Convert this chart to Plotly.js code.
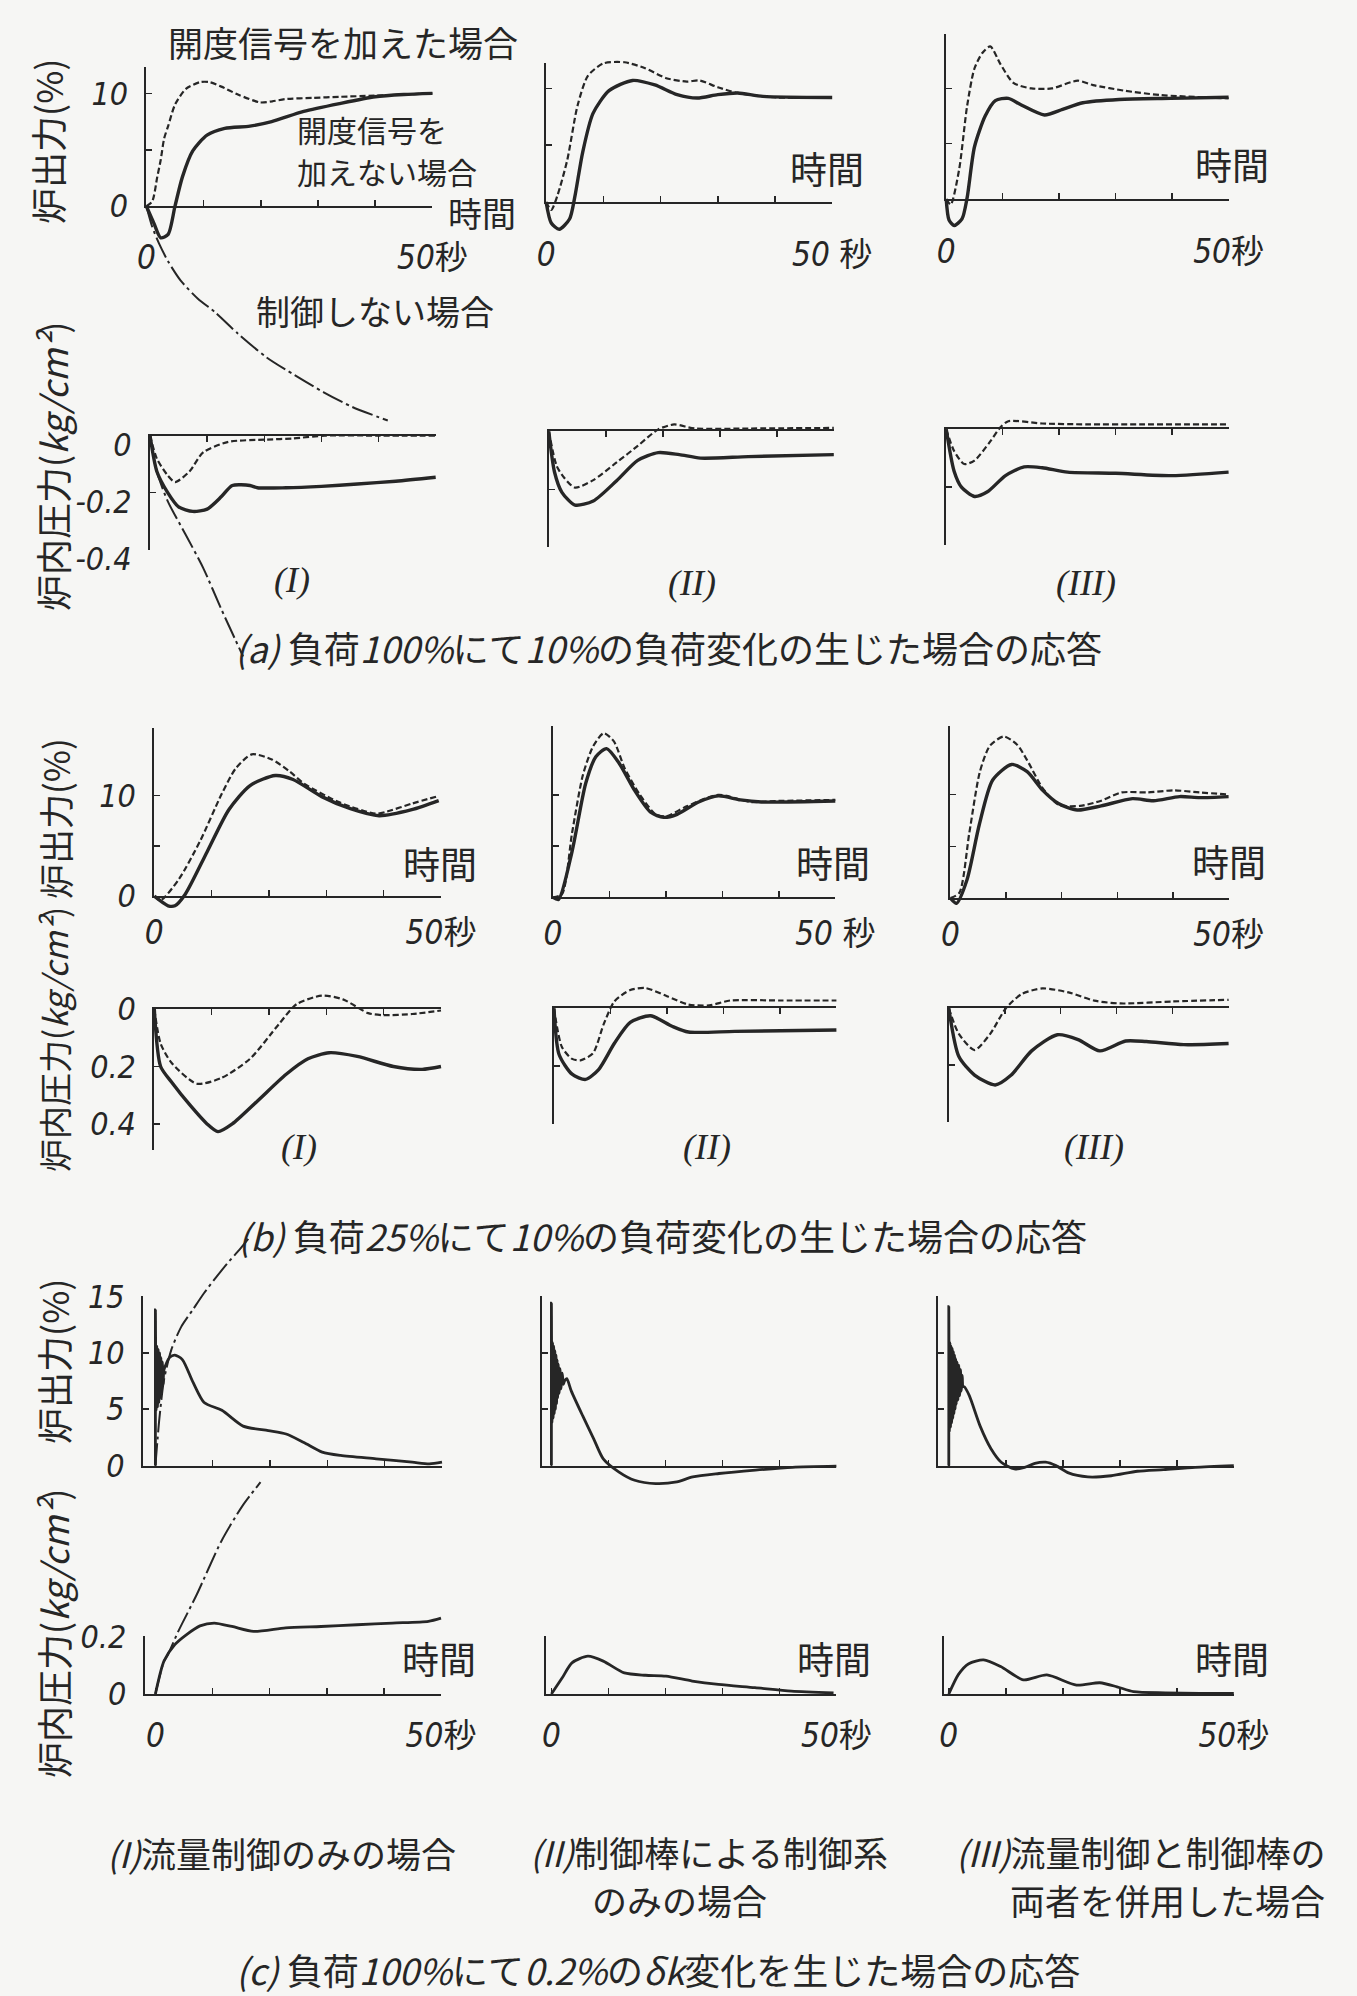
<!DOCTYPE html>
<html><head><meta charset="utf-8">
<script src="https://cdn.plot.ly/plotly-3.0.1.min.js"></script>
<style>html,body{margin:0;padding:0;background:#f6f6f4;}</style>
</head><body>
<div id="chart" style="width:1357px;height:1996px;"></div>
<script>
// ===================== DATA (time in s) =====================
// (a) 負荷100%にて10%の負荷変化 — 炉出力(%) and 炉内圧力(kg/cm²)
const a1_out_t_dash  = [0,1,1.9,2.5,3.1,3.8,5,6.9,9.4,11,13.1,16,19.9,22,24.4,29,33.8,40,45,50];
const a1_out_dash    = [0,0.4,2.6,4.1,6.0,7.1,9.0,10.4,11.0,11.0,10.6,9.9,9.2,9.3,9.5,9.6,9.7,9.8,9.9,10];
const a1_out_t_solid = [0,1.3,2.5,3.8,5,6.3,8.1,10.6,13.7,18.1,21.9,27.5,33.8,40,45,50];
const a1_out_solid   = [0,-1.5,-2.8,-2.5,0,2.6,4.9,6.3,6.9,7.1,7.5,8.4,9.1,9.7,9.9,10];
const a1_out_t_none  = [0,1,2.2,3.8,6,9,12,16,21,26,31,36,42.2];
const a1_out_none    = [0,-1.8,-3.3,-4.9,-6.6,-8.2,-9.4,-11.3,-13.4,-15,-16.5,-17.8,-19];
const a1_pr_t_dash   = [0,1.2,3.1,4.4,6.9,9.3,13.7,20.5,25,30.6,40,50];
const a1_pr_dash     = [0,-0.081,-0.14,-0.163,-0.126,-0.059,-0.022,-0.014,-0.01,0,0,0];
const a1_pr_t_solid  = [0,1.2,3.1,5,7.5,10,12.5,14.4,17.5,18.8,23.8,30,36.3,43,50];
const a1_pr_solid    = [0,-0.126,-0.2,-0.25,-0.266,-0.258,-0.214,-0.175,-0.175,-0.183,-0.183,-0.178,-0.17,-0.16,-0.146];
const a1_pr_t_none   = [0,1.2,3.1,6.2,9.3,12.5,15.6,16.3];
const a1_pr_none     = [0,-0.126,-0.23,-0.346,-0.464,-0.61,-0.745,-0.775];

const a2_out_t_dash  = [0,0.9,2,3.7,5.5,7.3,10,13.7,17.2,21,24.6,26.8,30,33.5,40.5,50];
const a2_out_dash    = [0,-0.7,0.6,3.7,8.5,11.1,12.2,12.3,11.8,10.9,10.6,10.7,10.1,9.6,9.2,9.2];
const a2_out_t_solid = [0,0.9,2.3,4.1,5,6.4,8.2,11,15.1,19,22.9,26.4,30,33.5,37.9,50];
const a2_out_solid   = [0,-1.85,-2.4,-1.5,0.4,4.4,7.8,9.8,10.7,10.3,9.45,9.15,9.45,9.6,9.3,9.2];
const a2_pr_t_dash   = [0,1.4,2.7,4.6,7.8,11.9,15.6,19.2,22,25.6,35,50];
const a2_pr_dash     = [0,-0.12,-0.16,-0.194,-0.168,-0.107,-0.05,0.007,0.024,0.01,0.01,0.012];
const a2_pr_t_solid  = [0,1,2.3,4.6,7.8,11.9,15.6,19.2,22.9,26.6,35,50];
const a2_pr_solid    = [0,-0.14,-0.21,-0.254,-0.24,-0.17,-0.1,-0.073,-0.08,-0.092,-0.087,-0.08];

const a3_out_t_dash  = [0,0.8,2.3,3.7,5,6.4,7.8,9.6,11.9,15.1,18.7,23.3,26,31.5,37.9,50];
const a3_out_dash    = [0,-0.5,2.7,8.4,11.8,13.2,13.8,12.2,10.5,10.0,10.0,10.7,10.3,9.8,9.4,9.1];
const a3_out_t_solid = [0,0.5,1.4,2.8,3.7,5,6.9,8.7,11,13.3,17.4,20.6,24.2,30.6,39.7,50];
const a3_out_solid   = [0,-1.9,-2.4,-1.8,0.1,4.7,7.5,8.9,9.1,8.5,7.6,8.1,8.7,9.0,9.1,9.2];
const a3_pr_t_dash   = [0,1.4,3.2,5,7.8,9.6,11,17,25,35,50];
const a3_pr_dash     = [0,-0.075,-0.12,-0.108,-0.042,0.007,0.028,0.02,0.017,0.017,0.017];
const a3_pr_t_solid  = [0,1.4,2.7,5,7.3,10.5,13.8,17,21.5,30,40,50];
const a3_pr_solid    = [0,-0.145,-0.2,-0.232,-0.216,-0.16,-0.13,-0.133,-0.148,-0.152,-0.16,-0.148];

// (b) 負荷25%にて10%の負荷変化 (pressure drop plotted downward as positive)
const b1_out_t_dash  = [0,1.1,4.3,8,11.7,14.2,17,20.5,23.6,26.1,32.4,38.6,40.5,44.9,49.2];
const b1_out_dash    = [0,-0.4,1.7,5.5,10.1,12.7,14.1,13.6,12.4,11.2,9.3,8.2,8.4,9.2,9.9];
const b1_out_t_solid = [0,2.4,3.6,5.4,9.2,13,16.7,21.1,24.2,29.2,34.2,39.2,44.9,49.6];
const b1_out_solid   = [0,-0.95,-0.95,0.2,4.4,8.6,11,12,11.6,9.9,8.7,8.0,8.6,9.5];
const b1_pr_t_dash   = [0,1.1,3,7.4,11.7,16.7,21.7,24.8,29.2,32.9,37.3,39.8,45,50];
const b1_pr_dash     = [0,0.12,0.187,0.26,0.24,0.173,0.053,-0.017,-0.047,-0.034,0.014,0.021,0.017,0.005];
const b1_pr_t_solid  = [0,1.1,3,6.2,9.2,11.1,13.6,18,23,26.8,30.5,35.4,41.7,46.7,50];
const b1_pr_solid    = [0,0.2,0.254,0.334,0.40,0.427,0.40,0.32,0.227,0.173,0.152,0.165,0.2,0.21,0.2];

const b2_out_t_dash  = [0,1.6,3.4,5.3,7.1,9,10.8,12.7,15.4,18.2,20,23.8,29.3,35,40,50];
const b2_out_dash    = [0,0.3,6.3,11.9,14.7,16.0,15.2,12.6,10,8.1,7.9,8.9,10,9.3,9.4,9.5];
const b2_out_t_solid = [0,1,3.4,5.8,7.6,9.5,11.7,14.5,17.3,19.6,22,25.8,29.3,33.2,36.9,50];
const b2_out_solid   = [0,-0.2,4.5,11.1,13.7,14.5,13.1,10.4,8.3,7.8,8.1,9.3,9.9,9.5,9.3,9.4];
const b2_pr_t_dash   = [0,1.4,3.2,4.7,6.9,8.8,10.7,13.5,16.2,20,23.8,27.5,31.2,40,50];
const b2_pr_dash     = [0,0.134,0.175,0.18,0.156,0.055,-0.024,-0.063,-0.07,-0.042,-0.013,-0.01,-0.027,-0.027,-0.027];
const b2_pr_t_solid  = [0,0.9,3.2,5.6,7.9,10.7,13.5,17.1,20.9,23.8,32,50];
const b2_pr_solid    = [0,0.16,0.228,0.246,0.212,0.121,0.049,0.026,0.062,0.082,0.08,0.075];

const b3_out_t_dash  = [0,1.6,3.4,5.3,7.1,9.6,12,13.8,16.6,19.5,23.3,27.1,30.8,35.5,40.1,44.8,50];
const b3_out_dash    = [0,0.5,6.3,12.2,14.7,15.6,14.8,13.3,10.6,9.0,8.9,9.4,10.2,10.2,10.4,10.2,10];
const b3_out_t_solid = [0,1.1,3,5.2,7.6,11,13.8,16.6,19.5,22.8,27.1,32.7,36.5,41.2,44.8,50];
const b3_out_solid   = [0,-0.5,1.8,7.1,11.4,12.9,12.2,10.4,9.1,8.5,8.9,9.6,9.4,9.8,9.7,9.8];
const b3_pr_t_dash   = [0,1.8,4.6,7.4,10.2,13,16.7,21.4,26,30.7,40,50];
const b3_pr_dash     = [0,0.09,0.147,0.09,0,-0.05,-0.07,-0.056,-0.027,-0.017,-0.024,-0.03];
const b3_pr_t_solid  = [0,1.8,4.6,8.3,11.1,14.8,19.4,23.1,27,31.6,35.3,42,50];
const b3_pr_solid    = [0,0.17,0.235,0.27,0.236,0.15,0.093,0.11,0.15,0.115,0.117,0.128,0.124];

// (c) 負荷100%にて0.2%のδk変化
const c1_out_t      = [0,0,0.12,0.24,0.36,0.48,0.6,0.72,0.84,0.96,1.08,1.2,1.35,1.5,2.5,3.4,4.7,6.6,8.5,11.6,15.3,19.7,22.8,25.9,29.1,32.3,38.5,44.8,47.8,50];
const c1_out        = [0,13.8,4.9,10.6,5.2,10.3,5.6,10,6,9.6,6.5,9.2,7.2,8.5,9.6,9.8,9.4,7.35,5.6,4.9,3.5,3.1,2.8,2.05,1.2,0.9,0.6,0.3,0.15,0.3];
const c1_out_t_none = [0,0.7,1.5,2.8,4.5,6.5,8.5,10.3,12.5,14.6,16.2];
const c1_out_none   = [0,4.2,7.6,10.3,12.3,13.8,15.3,16.5,17.9,19.1,20.1];
const c1_pr_t       = [0,1.5,3.4,5.4,7.8,10.3,13.4,17.2,22.8,29,35.3,41.5,47.8,50];
const c1_pr         = [0,0.114,0.171,0.205,0.236,0.246,0.234,0.217,0.229,0.234,0.24,0.246,0.252,0.263];
const c1_pr_t_none  = [0,1.5,2.2,4,7.2,11.5,15.3,18.4];
const c1_pr_none    = [0,0.114,0.137,0.217,0.343,0.528,0.654,0.734];

const c2_out_t = [0,0,0.1,0.2,0.3,0.4,0.5,0.6,0.7,0.8,0.9,1.0,1.1,1.2,1.35,1.5,1.7,1.9,2.1,2.3,2.7,3.5,5.5,7.4,9.1,11.8,14.6,18.3,22,24.8,29.4,35.8,42.3,50];
const c2_out   = [0,14.4,3.8,10.9,4.2,10.6,4.6,10.2,5,9.8,5.5,9.4,6,9,6.4,8.6,6.8,8.2,7.2,7.5,7.7,6.6,4.4,2.4,0.6,-0.55,-1.3,-1.6,-1.45,-1.0,-0.7,-0.4,-0.15,-0.05];
const c2_pr_t  = [0,1.9,3.6,6.4,9.1,12.8,16.5,20.1,24.7,29.3,35.7,42.1,49.5];
const c2_pr    = [0,0.056,0.108,0.131,0.114,0.073,0.065,0.062,0.045,0.033,0.022,0.01,0.004];

const c3_out_t = [0,0,0.1,0.2,0.3,0.4,0.5,0.6,0.7,0.8,0.9,1.0,1.1,1.2,1.3,1.45,1.6,1.75,1.9,2.05,2.2,2.35,2.5,2.7,3.6,5.5,7.4,9.2,11.5,13.3,15.1,17,18.8,21,24.4,28.5,33.1,37.7,43.2,50];
const c3_out   = [0,14.1,3.0,10.9,3.4,10.6,3.8,10.4,4.2,10.1,4.6,9.8,5,9.5,5.4,9.2,5.8,8.9,6.2,8.5,6.6,8.0,7.0,7.0,6.2,3.5,1.5,0.3,-0.3,-0.15,0.2,0.3,0,-0.65,-1.0,-0.9,-0.5,-0.35,-0.15,0];
const c3_pr_t  = [0,1.7,3.5,6.1,9.1,13.1,17.2,22.4,26.5,29.5,32.4,38,44,50];
const c3_pr    = [0,0.068,0.105,0.118,0.095,0.049,0.066,0.031,0.039,0.025,0.008,0.004,0.002,0.002];

// tick labels
const X_TICKS = [0,10,20,30,40,50];
const X_TEXT  = ['<i>0</i>','','','','','<i>50</i>秒'];
const X_TEXT2 = ['<i>0</i>','','','','','<i>50</i> 秒'];
const OUT_TICKS_A = [0,5,10], OUT_TEXT_A = ['0','','10'];
const PR_TICKS_A  = [-0.4,-0.2,0], PR_TEXT_A = ['-0.4','-0.2','0'];
const PR_TICKS_B  = [0,0.2,0.4], PR_TEXT_B = ['0','0.2','0.4'];
const OUT_TICKS_C = [0,5,10,15], OUT_TEXT_C = ['0','5','10','15'];
const PR_TICKS_C  = [0,0.2], PR_TEXT_C = ['0','0.2'];

// ===================== LAYOUT / STYLE =====================
const W = 1357, H = 1996;
const INK = '#262626', BG = '#f6f6f4';
const JP = '"Noto Sans CJK JP","Noto Sans CJK SC",sans-serif';
const NUM = '"Liberation Sans Narrow","DejaVu Sans Condensed","Liberation Sans","Noto Sans CJK JP",sans-serif';
const STYLE = {
  solid: {color: INK, width: 3.4},
  dash:  {color: INK, width: 2.2, dash: '6px,3px'},
  chain: {color: INK, width: 2, dash: '22px,4px,3px,4px'},
  thin:  {color: INK, width: 2.8}
};

// panel geometry (pixels) and which series go in it
const panels = [
  {X0:146.4, X50:432.4, Y0:206.2, ky:11.28, yBot:0, yTop:12.3, xside:'bottom', xlab:X_TEXT, xstand:21, yt:OUT_TICKS_A, yl:OUT_TEXT_A, dyb:450,
   series:[{t:a1_out_t_dash,y:a1_out_dash,s:'dash'},{t:a1_out_t_solid,y:a1_out_solid,s:'solid'},{t:a1_out_t_none,y:a1_out_none,s:'chain'}]},
  {X0:546.1, X50:832.2, Y0:202, ky:11.36, yBot:0, yTop:12.2, xside:'bottom', xlab:X_TEXT2, xstand:22, yt:OUT_TICKS_A,
   series:[{t:a2_out_t_dash,y:a2_out_dash,s:'dash'},{t:a2_out_t_solid,y:a2_out_solid,s:'solid'}]},
  {X0:946.2, X50:1228.6, Y0:199, ky:11.06, yBot:0, yTop:14.9, xside:'bottom', xlab:X_TEXT, xstand:22, yt:OUT_TICKS_A,
   series:[{t:a3_out_t_dash,y:a3_out_dash,s:'dash'},{t:a3_out_t_solid,y:a3_out_solid,s:'solid'}]},
  {X0:150, X50:435.7, Y0:435.6, ky:285, yBot:-0.4, yTop:0, xside:'top', yt:PR_TICKS_A, yl:PR_TEXT_A, dyb:665, ylshift:9,
   series:[{t:a1_pr_t_dash,y:a1_pr_dash,s:'dash'},{t:a1_pr_t_solid,y:a1_pr_solid,s:'solid'},{t:a1_pr_t_none,y:a1_pr_none,s:'chain'}]},
  {X0:548.8, X50:833.8, Y0:431.4, ky:290, yBot:-0.4, yTop:0, xside:'top', yt:PR_TICKS_A,
   series:[{t:a2_pr_t_dash,y:a2_pr_dash,s:'dash'},{t:a2_pr_t_solid,y:a2_pr_solid,s:'solid'}]},
  {X0:946.2, X50:1228.6, Y0:429.3, ky:289.5, yBot:-0.4, yTop:0, xside:'top', yt:PR_TICKS_A,
   series:[{t:a3_pr_t_dash,y:a3_pr_dash,s:'dash'},{t:a3_pr_t_solid,y:a3_pr_solid,s:'solid'}]},

  {X0:154.3, X50:441, Y0:896.2, ky:10.06, yBot:0, yTop:16.7, xside:'bottom', xlab:X_TEXT, xstand:6, yt:OUT_TICKS_A, yl:OUT_TEXT_A,
   series:[{t:b1_out_t_dash,y:b1_out_dash,s:'dash'},{t:b1_out_t_solid,y:b1_out_solid,s:'solid'}]},
  {X0:552.9, X50:835.3, Y0:897.4, ky:10.26, yBot:0, yTop:16.7, xside:'bottom', xlab:X_TEXT2, xstand:6, yt:OUT_TICKS_A,
   series:[{t:b2_out_t_dash,y:b2_out_dash,s:'dash'},{t:b2_out_t_solid,y:b2_out_solid,s:'solid'}]},
  {X0:950.4, X50:1228.6, Y0:898.1, ky:10.36, yBot:0, yTop:16.6, xside:'bottom', xlab:X_TEXT, xstand:6, yt:OUT_TICKS_A,
   series:[{t:b3_out_t_dash,y:b3_out_dash,s:'dash'},{t:b3_out_t_solid,y:b3_out_solid,s:'solid'}]},
  {X0:154.3, X50:441, Y0:1009.1, ky:-287, yBot:0.49, yTop:0, xside:'top', yt:PR_TICKS_B, yl:PR_TEXT_B,
   series:[{t:b1_pr_t_dash,y:b1_pr_dash,s:'dash'},{t:b1_pr_t_solid,y:b1_pr_solid,s:'solid'}]},
  {X0:554, X50:836.4, Y0:1008.3, ky:-289, yBot:0.4, yTop:0, xside:'top', yt:PR_TICKS_B,
   series:[{t:b2_pr_t_dash,y:b2_pr_dash,s:'dash'},{t:b2_pr_t_solid,y:b2_pr_solid,s:'solid'}]},
  {X0:948.8, X50:1228.6, Y0:1008.3, ky:-284, yBot:0.4, yTop:0, xside:'top', yt:PR_TICKS_B,
   series:[{t:b3_pr_t_dash,y:b3_pr_dash,s:'dash'},{t:b3_pr_t_solid,y:b3_pr_solid,s:'solid'}]},

  {X0:155.4, X50:442, xl:142.9, Y0:1465.6, ky:11.28, yBot:0, yTop:15, xside:'bottom', yt:OUT_TICKS_C, yl:OUT_TEXT_C, dyt:1222,
   series:[{t:c1_out_t,y:c1_out,s:'thin'},{t:c1_out_t_none,y:c1_out_none,s:'chain'}]},
  {X0:551.4, X50:836.4, xl:542, Y0:1465.6, ky:11.28, yBot:0, yTop:15, xside:'bottom', yt:OUT_TICKS_C,
   series:[{t:c2_out_t,y:c2_out,s:'thin'}]},
  {X0:948.8, X50:1233.8, xl:938.4, Y0:1465.6, ky:11.28, yBot:0, yTop:15, xside:'bottom', yt:OUT_TICKS_C,
   series:[{t:c3_out_t,y:c3_out,s:'thin'}]},
  {X0:155.4, X50:441, xl:144.6, Y0:1694, ky:288.5, yBot:0, yTop:0.2, xside:'bottom', xlab:X_TEXT, xstand:11, yt:PR_TICKS_C, yl:PR_TEXT_C, dyt:1468,
   series:[{t:c1_pr_t,y:c1_pr,s:'thin'},{t:c1_pr_t_none,y:c1_pr_none,s:'chain'}]},
  {X0:551.4, X50:836.4, xl:546.1, Y0:1694, ky:288.5, yBot:0, yTop:0.2, xside:'bottom', xlab:X_TEXT, xstand:11, yt:PR_TICKS_C,
   series:[{t:c2_pr_t,y:c2_pr,s:'thin'}]},
  {X0:948.8, X50:1233.8, xl:943.6, Y0:1694, ky:288.5, yBot:0, yTop:0.2, xside:'bottom', xlab:X_TEXT, xstand:11, yt:PR_TICKS_C,
   series:[{t:c3_pr_t,y:c3_pr,s:'thin'}]}
];

const texts = [
  {t:'開度信号を加えた場合', x:343, y:41, s:35},
  {t:'開度信号を', x:295, y:129, s:30, a:'left'},
  {t:'加えない場合', x:295, y:171, s:30, a:'left'},
  {t:'制御しない場合', x:375, y:310, s:34},
  {t:'時間', x:482, y:212, s:34}, {t:'時間', x:827, y:168, s:37}, {t:'時間', x:1232, y:164, s:37},
  {t:'時間', x:440, y:863, s:37}, {t:'時間', x:833, y:862, s:37}, {t:'時間', x:1229, y:861, s:37},
  {t:'時間', x:439, y:1658, s:37}, {t:'時間', x:834, y:1658, s:37}, {t:'時間', x:1232, y:1658, s:37},
  {t:'炉出力(%)', x:47, y:141, s:36, r:true},
  {t:'炉内圧力(<i>kg/cm²</i>)', x:52, y:467, s:36, r:true},
  {t:'炉出力(%)', x:54, y:818, s:35, r:true},
  {t:'炉内圧力(<i>kg/cm²</i>)', x:54, y:1040, s:33, r:true},
  {t:'炉出力(%)', x:53, y:1361, s:36, r:true},
  {t:'炉内圧力(<i>kg/cm²</i>)', x:53, y:1634, s:36, r:true},
  {t:'<i>(a)</i> 負荷<i>100%</i>にて<i>10%</i>の負荷変化の生じた場合の応答', x:668, y:647, s:36},
  {t:'<i>(b)</i> 負荷<i>25%</i>にて<i>10%</i>の負荷変化の生じた場合の応答', x:662, y:1235, s:36},
  {t:'<i>(c)</i> 負荷<i>100%</i>にて<i>0.2%</i>の<i>δk</i>変化を生じた場合の応答', x:658, y:1969, s:36},
  {t:'<i>(I)</i>流量制御のみの場合', x:105, y:1852, s:35, a:'left'},
  {t:'<i>(II)</i>制御棒による制御系', x:528, y:1851, s:35, a:'left'},
  {t:'のみの場合', x:590, y:1899, s:35, a:'left'},
  {t:'<i>(III)</i>流量制御と制御棒の', x:1327, y:1851, s:35, a:'right'},
  {t:'両者を併用した場合', x:1327, y:1899, s:35, a:'right'}
];
const romans = [
  {t:'(I)', x:292, y:580}, {t:'(II)', x:692, y:583}, {t:'(III)', x:1086, y:583},
  {t:'(I)', x:299, y:1147}, {t:'(II)', x:707, y:1147}, {t:'(III)', x:1094, y:1147}
];

// ===================== BUILD =====================
const layout = {
  width: W, height: H, margin: {l:0, r:0, t:0, b:0},
  paper_bgcolor: BG, plot_bgcolor: 'rgba(0,0,0,0)', showlegend: false,
  annotations: []
};
const traces = [];
const N = panels.length;
const sfx = n => (n === 1 ? '' : String(n));

panels.forEach((p, i) => {
  const f = i + 1, d = i + 1 + N;
  const kx = (p.X50 - p.X0) / 50;
  const xl = (p.xl !== undefined) ? p.xl : p.X0;
  const py = v => p.Y0 - p.ky * v;
  const pBot = py(p.yBot), pTop = py(p.yTop);

  // visible frame axes (axis lines, ticks, tick labels)
  layout['xaxis' + sfx(f)] = {
    domain: [xl / W, p.X50 / W], range: [(xl - p.X0) / kx, 50], anchor: 'y' + sfx(f), side: p.xside,
    showline: true, linecolor: INK, linewidth: 2, ticks: 'inside', ticklen: 6, tickwidth: 1.5, tickcolor: INK,
    tickmode: 'array', tickvals: X_TICKS, ticktext: p.xlab || ['', '', '', '', '', ''], showticklabels: !!p.xlab,
    tickfont: {family: NUM, size: 33, color: INK}, ticklabelstandoff: p.xstand || 0,
    showgrid: false, zeroline: false, fixedrange: true
  };
  layout['yaxis' + sfx(f)] = {
    domain: [1 - pBot / H, 1 - pTop / H], range: [p.yBot, p.yTop], anchor: 'x' + sfx(f), side: 'left',
    showline: true, linecolor: INK, linewidth: 2, ticks: 'inside', ticklen: 6, tickwidth: 1.5, tickcolor: INK,
    tickmode: 'array', tickvals: p.yt, ticktext: p.yl || p.yt.map(() => ''), showticklabels: !!p.yl,
    tickfont: {family: NUM, size: 32, color: INK, style: 'italic'}, ticklabelstandoff: 10,
    ticklabelshift: p.ylshift || 0,
    showgrid: false, zeroline: false, fixedrange: true
  };
  // an empty trace so the frame subplot is registered and drawn
  traces.push({type: 'scatter', mode: 'lines', x: [], y: [], xaxis: 'x' + sfx(f), yaxis: 'y' + sfx(f),
    hoverinfo: 'skip', showlegend: false});

  // hidden, larger data axes sharing the same scale (so curves may overrun the frame)
  const dxl = Math.max(0, xl - 30), dxr = Math.min(W, p.X50 + 20);
  const dyt = Math.max(0, p.dyt !== undefined ? p.dyt : Math.min(pBot, pTop) - 40);
  const dyb = Math.min(H, p.dyb !== undefined ? p.dyb : Math.max(pBot, pTop) + 45);
  layout['xaxis' + d] = {domain: [dxl / W, dxr / W], range: [(dxl - p.X0) / kx, (dxr - p.X0) / kx],
    anchor: 'y' + d, visible: false, fixedrange: true};
  layout['yaxis' + d] = {domain: [1 - dyb / H, 1 - dyt / H], range: [(p.Y0 - dyb) / p.ky, (p.Y0 - dyt) / p.ky],
    anchor: 'x' + d, visible: false, fixedrange: true};

  p.series.forEach(s => {
    traces.push({
      type: 'scatter', mode: 'lines', x: s.t, y: s.y, xaxis: 'x' + d, yaxis: 'y' + d,
      line: Object.assign({shape: 'spline', smoothing: 0.7}, STYLE[s.s]),
      hoverinfo: 'skip', showlegend: false
    });
  });
});

texts.forEach(o => layout.annotations.push({
  text: o.t, xref: 'paper', yref: 'paper', x: o.x / W, y: 1 - o.y / H,
  xanchor: o.a || 'center', yanchor: 'middle', align: o.a || 'center', showarrow: false, textangle: o.r ? -90 : 0,
  font: {family: JP, size: o.s, color: INK}
}));
romans.forEach(o => layout.annotations.push({
  text: o.t, xref: 'paper', yref: 'paper', x: o.x / W, y: 1 - o.y / H,
  xanchor: 'center', yanchor: 'middle', showarrow: false,
  font: {family: '"Liberation Serif","DejaVu Serif",serif', size: 36, color: INK, style: 'italic'}
}));

Plotly.newPlot('chart', traces, layout, {staticPlot: true, displayModeBar: false});
</script>
</body></html>
